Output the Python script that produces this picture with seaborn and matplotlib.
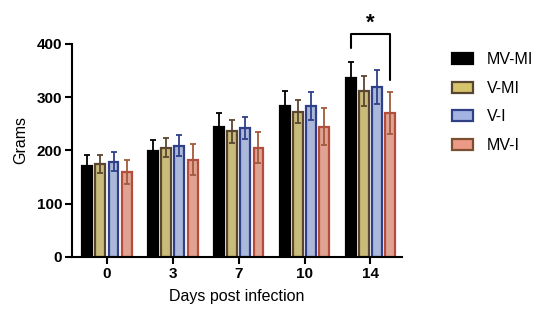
import numpy as np
import pandas as pd
import seaborn as sns
import matplotlib.pyplot as plt
from matplotlib.patches import Patch

days = ["0", "3", "7", "10", "14"]
groups = ["MV-MI", "V-MI", "V-I", "MV-I"]

# mean weight (grams) per group, one value per day
mv_mi = [171, 199, 245, 284, 336]
v_mi = [174, 205, 236, 273, 311]
v_i = [179, 209, 242, 284, 319]
mv_i = [160, 183, 205, 245, 270]

# error bar (SD) per group
mv_mi_err = [20, 20, 25, 28, 31]
v_mi_err = [17, 18, 22, 22, 28]
v_i_err = [18, 20, 20, 26, 32]
mv_i_err = [23, 29, 29, 35, 39]

fills = ["#000000", "#d6c46c", "#a3b4e2", "#ec9a86"]
edges = ["#000000", "#5a4630", "#2f4088", "#b84c3c"]
err_cols = ["#000000", "#5a4630", "#2f4088", "#a05a3c"]

sns.set_style("ticks", {"axes.edgecolor": "black", "text.color": "black",
                        "axes.labelcolor": "black", "xtick.color": "black",
                        "ytick.color": "black"})
plt.rcParams["font.family"] = ["Liberation Sans", "DejaVu Sans"]

df = pd.DataFrame({
    "day": days * 4,
    "group": np.repeat(groups, len(days)),
    "grams": mv_mi + v_mi + v_i + mv_i,
})
errs = [mv_mi_err, v_mi_err, v_i_err, mv_i_err]

fig = plt.figure(figsize=(5.5, 3.29), dpi=100)
ax = fig.add_axes([0.131, 0.219, 0.60, 0.712])

sns.barplot(data=df, x="day", y="grams", hue="group", order=days,
            hue_order=groups, palette=fills, width=0.8, gap=0.25,
            errorbar=None, legend=False, ax=ax)

# colour the outlines and add the error bars on top of each bar
for cont, ec, erc, e in zip(ax.containers, edges, err_cols, errs):
    xs, ys = [], []
    for bar in cont:
        bar.set_edgecolor(ec)
        bar.set_linewidth(1.6)
        xs.append(bar.get_x() + bar.get_width() / 2)
        ys.append(bar.get_height())
    ax.errorbar(xs, ys, yerr=e, fmt="none", ecolor=erc, elinewidth=1.3,
                capsize=2, capthick=1.3, zorder=3)

ax.set_ylim(0, 440)
ax.set_xlim(-0.53, 4.48)
ax.set_yticks([0, 100, 200, 300, 400])
ax.spines["left"].set_bounds(0, 400)
ax.spines["right"].set_visible(False)
ax.spines["top"].set_visible(False)
for s in ["left", "bottom"]:
    ax.spines[s].set_linewidth(1.5)
ax.tick_params(axis="both", width=1.5, length=5, labelsize=11, pad=2)
for lab in ax.get_xticklabels() + ax.get_yticklabels():
    lab.set_fontweight("bold")
ax.set_xlabel("Days post infection", fontsize=11.5, labelpad=6)
ax.set_ylabel("Grams", fontsize=11.5, labelpad=6)

# significance bracket between MV-MI and MV-I on day 14
x_left = ax.containers[0][4].get_x() + ax.containers[0][4].get_width() / 2
x_right = ax.containers[3][4].get_x() + ax.containers[3][4].get_width() / 2
ax.plot([x_left, x_left, x_right, x_right], [392, 418, 418, 332],
        color="black", lw=1.5, clip_on=False)
ax.text((x_left + x_right) / 2, 420, "*", ha="center", va="bottom",
        fontsize=16, fontweight="bold")

handles = [Patch(facecolor=f, edgecolor=e if e != "#b84c3c" else "#7a5030",
                 linewidth=1.6) for f, e in zip(fills, edges)]
fig.legend(handles, groups, loc="upper left", bbox_to_anchor=(0.795, 0.885),
           frameon=False, fontsize=11.5, handlelength=1.35, handleheight=0.7,
           labelspacing=0.85, handletextpad=0.85)

fig.savefig("out.png", dpi=100)
